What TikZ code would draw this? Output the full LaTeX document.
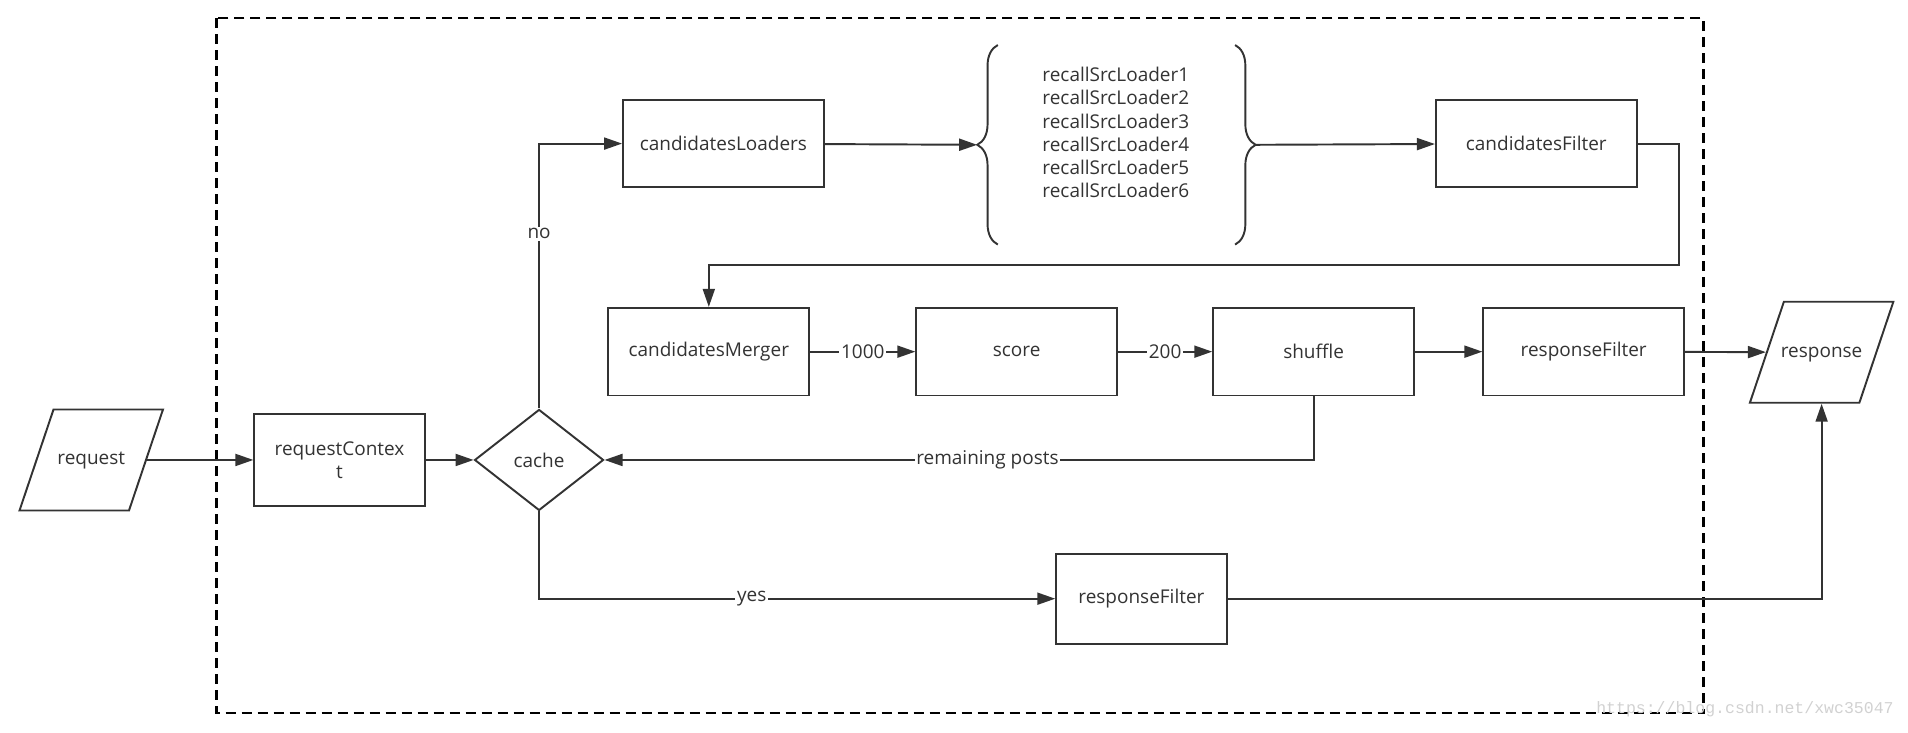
\documentclass[tikz,border=0pt]{standalone}
\usepackage{fontspec}
\setmainfont{Open Sans}
\newfontfamily\wmfont{Liberation Mono}
\usepackage{xcolor}
\usetikzlibrary{positioning, arrows.meta, shapes.geometric, decorations.pathreplacing}
\definecolor{ink}{HTML}{333333}
\newcommand{\iolabel}[1]{\makebox[1.51cm]{#1}}
\tikzset{
    proc/.style={rectangle, draw=ink, line width=1.1pt, fill=white, align=center, minimum width=4.015cm, minimum height=1.752cm, text=ink, font=\fontsize{10.8}{13}\selectfont},
    io/.style={trapezium, trapezium left angle=71.4, trapezium right angle=108.6, draw=ink, line width=1.1pt, fill=white, text height=0.3cm, text depth=0.1cm, inner ysep=0.81cm, inner xsep=0pt, minimum height=0pt, minimum width=0pt, text=ink, font=\fontsize{10.8}{13}\selectfont},
    decision/.style={diamond, draw=ink, line width=1.1pt, fill=white, minimum width=2.58cm, minimum height=2.02cm, inner sep=0pt, text=ink, font=\fontsize{10.8}{13}\selectfont},
    arrow/.style={-{Triangle[length=0.36cm, width=0.24cm]}, draw=ink, line width=1.1pt},
    edgelabel/.style={fill=white, inner sep=1pt, text=ink, font=\fontsize{10.8}{13}\selectfont},
    curly/.style={decorate, decoration={brace, amplitude=0.41cm}, draw=ink, line width=1.1pt},
    frame/.style={draw=black, line width=1.3pt, dash pattern=on 0.2cm off 0.12cm}
}

\begin{document}
\begin{tikzpicture}[x=0.024336cm, y=-0.024336cm]
    \useasboundingbox (0,0) rectangle (1568,602);

    % Frame
    \draw[frame] (178,15) rectangle (1400,586);

    % Input and context
    \node[io] (req) at (75,378) {\iolabel{request}};
    \node[proc, minimum width=3.407cm, minimum height=1.825cm] (ctx) at (279,378) {requestContex\\t};
    \node[decision] (cache) at (443,378) {cache};

    % Recall
    \node[proc] (loaders) at (594.5,118) {candidatesLoaders};
    \node[align=center, text=ink, font=\fontsize{10.8}{13.2}\selectfont] (recall) at (917,109)
        {recallSrcLoader1\\recallSrcLoader2\\recallSrcLoader3\\recallSrcLoader4\\recallSrcLoader5\\recallSrcLoader6};
    \draw[curly] (820,201) -- (820,37);
    \draw[curly] (1015,37) -- (1015,201);
    \coordinate (ltip) at (803,119);
    \coordinate (rtip) at (1032,119);
    \node[proc] (filter) at (1262.5,118) {candidatesFilter};

    % Ranking
    \node[proc] (merger) at (582.5,289) {candidatesMerger};
    \node[proc] (score) at (835.5,289) {score};
    \node[proc] (shuffle) at (1079.5,289) {shuffle};
    \node[proc] (rfilter) at (1301.5,289) {responseFilter};
    \node[io] (resp) at (1497,289.5) {\iolabel{response}};
    \node[proc, minimum width=3.407cm, minimum height=1.80cm] (rfilter2) at (938,492) {responseFilter};
    \coordinate (turn) at (1380,218);

    % Connectors
    \draw[arrow] (req) -- (ctx);
    \draw[arrow] (ctx) -- (cache);
    \draw[arrow] (cache) |- node[edgelabel, pos=0.33] {no} (loaders);
    \draw[arrow] (loaders) -- (ltip);
    \draw[arrow] (rtip) -- (filter);
    \draw[arrow] (filter) -| (turn) -| (merger);
    \draw[arrow] (merger) -- node[edgelabel] {1000} (score);
    \draw[arrow] (score) -- node[edgelabel] {200} (shuffle);
    \draw[arrow] (shuffle) -- (rfilter);
    \draw[arrow] (rfilter) -- (resp);
    \draw[arrow] (shuffle) |- node[edgelabel, pos=0.73] {remaining posts} (cache);
    \draw[arrow] (cache) |- node[edgelabel, pos=0.706] {yes} (rfilter2);
    \draw[arrow] (rfilter2) -| (resp);

    % Watermark
    \node[text=black!18, font=\wmfont\fontsize{9.4}{11}\selectfont] (wm) at (1434,583) {https://blog.csdn.net/xwc35047};
\end{tikzpicture}
\end{document}
